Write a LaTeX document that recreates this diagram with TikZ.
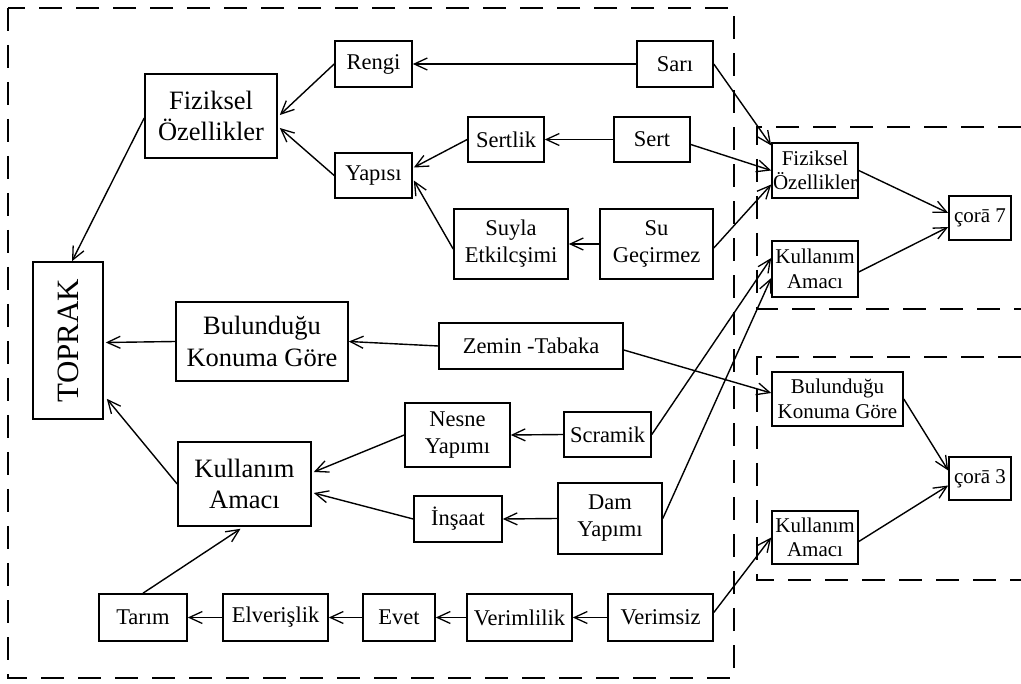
\documentclass[tikz,border=0pt]{standalone}
\usepackage{fontspec}
\setmainfont{Liberation Serif}
\usetikzlibrary{arrows.meta,calc}

\tikzset{
  box/.style={draw, line width=1.6pt, inner sep=0pt, align=center},
  big/.style={box, font=\fontsize{26.5}{31.5}\selectfont},
  mid/.style={box, font=\fontsize{22.5}{27}\selectfont},
  sml/.style={box, font=\fontsize{21}{24.5}\selectfont},
  sz/.style 2 args={minimum width=#1pt, minimum height=#2pt},
  link/.style={line width=1.4pt, -{Straight Barb[length=13pt,width=12pt,line width=1.3pt]}},
  frame/.style={line width=2pt, dash pattern=on 23pt off 14pt},
}

\begin{document}
\begin{tikzpicture}[x=1pt,y=-1pt]
\useasboundingbox (0,0) rectangle (1021,684);

% dashed group frames
\draw[frame] (8,8) rectangle (734,678);
\draw[frame] (1021,127) -- (757,127) -- (757,309) -- (1021,309);
\draw[frame] (1021,357) -- (757,357) -- (757,580) -- (1021,580);

% main tree
\node[box, sz={70}{157}] (toprak) at (68,340.5) {};
\node[font=\fontsize{31}{37}\selectfont, rotate=90] (toprakT) at (toprak.center) {TOPRAK};

\node[big, sz={132}{84}] (fizL) at (211,116) {Fiziksel\\Özellikler};
\node[mid, sz={77}{46}] (rengi) at (373.5,64) {Rengi};
\node[mid, sz={77}{45}] (yapisi) at (373.5,175.5) {Yapısı};
\node[mid, sz={76}{46}] (sari) at (675,64) {Sarı};
\node[mid, sz={76}{45}] (sertlik) at (506,139.5) {Sertlik};
\node[mid, sz={76}{45}] (sert) at (652,139.5) {Sert};
\node[mid, sz={114}{70}] (suyla) at (511,244) {Suyla\\Etkilcşimi};
\node[mid, sz={113}{70}] (su) at (656.5,244) {Su\\Geçirmez};

\node[big, sz={172}{79}] (bulL) at (262,341.5) {Bulunduğu\\Konuma Göre};
\node[mid, sz={184}{46}] (zemin) at (531,346) {Zemin -Tabaka};

\node[big, sz={133}{84}] (kulL) at (244.5,484) {Kullanım\\Amacı};
\node[mid, sz={105}{64}] (nesne) at (457.5,435) {Nesne\\Yapımı};
\node[mid, sz={87}{45}] (scramik) at (607.5,434.5) {Scramik};
\node[mid, sz={88}{46}] (insaat) at (458,519) {İnşaat};
\node[mid, sz={104}{71}] (dam) at (610,518.5) {Dam\\Yapımı};

\node[mid, sz={88}{47}] (tarim) at (143,617.5) {Tarım};
\node[mid, sz={105}{47}] (elver) at (275.5,617.5) {Elverişlik};
\node[mid, sz={72}{47}] (evet) at (399,617.5) {Evet};
\node[mid, sz={105}{47}] (veriml) at (519.5,617.5) {Verimlilik};
\node[mid, sz={105}{47}] (verimsiz) at (660.5,617.5) {Verimsiz};

% right-hand groups
\node[sml, sz={86}{55}] (fizR) at (815,170.5) {Fiziksel\\Özellikler};
\node[sml, sz={86}{56}] (kulRa) at (815,269) {Kullanım\\Amacı};
\node[sml, sz={62}{44}] (cora7) at (980,218) {çorā 7};
\node[sml, sz={131}{54}] (bulR) at (837.5,399) {Bulunduğu\\Konuma Göre};
\node[sml, sz={62}{43}] (cora3) at (980,478.5) {çorā 3};
\node[sml, sz={86}{53}] (kulRb) at (815,537.5) {Kullanım\\Amacı};

% connectors inside the main tree
\draw[link] (sari.west) -- (rengi.east);
\draw[link] (rengi.west) -- ($(fizL.east)+(2,-1)$);
\draw[link] (yapisi.west) -- ($(fizL.east)+(2,12)$);
\draw[link] (sert.west) -- (sertlik.east);
\draw[link] (sertlik.west) -- ($(yapisi.east)+(1,-8)$);
\draw[link] (su.west) -- (suyla.east);
\draw[link] ($(suyla.west)+(0,5)$) -- ($(yapisi.east)+(1,5)$);
\draw[link] ($(fizL.west)+(0,2)$) -- ($(toprak.north)+(4,0)$);
\draw[link] (zemin.west) -- (bulL.east);
\draw[link] (bulL.west) -- ($(toprak.east)+(2,2)$);
\draw[link] (kulL.west) -- ($(toprak.south east)+(3,-21)$);
\draw[link] (scramik.west) -- (nesne.east);
\draw[link] (nesne.west) -- ($(kulL.east)+(2,-12)$);
\draw[link] (dam.west) -- (insaat.east);
\draw[link] (insaat.west) -- ($(kulL.east)+(2,9)$);
\draw[link] (verimsiz.west) -- (veriml.east);
\draw[link] (veriml.west) -- (evet.east);
\draw[link] (evet.west) -- (elver.east);
\draw[link] (elver.west) -- (tarim.east);
\draw[link] (tarim.north) -- ($(kulL.south)+(-4,2)$);

% connectors into the right-hand groups
\draw[link] (sari.east) -- ($(fizR.west)+(0,-25)$);
\draw[link] ($(sert.east)+(0,5)$) -- (fizR.west);
\draw[link] ($(su.east)+(0,4)$) -- ($(fizR.west)+(0,14)$);
\draw[link] (scramik.east) -- ($(kulRa.west)+(0,-11)$);
\draw[link] (dam.east) -- ($(kulRa.west)+(0,9)$);
\draw[link] ($(zemin.east)+(0,4)$) -- ($(bulR.west)+(0,-6)$);
\draw[link] ($(verimsiz.east)+(0,-5)$) -- (kulRb.west);
\draw[link] (fizR.east) -- ($(cora7.west)+(0,-5)$);
\draw[link] ($(kulRa.east)+(0,3)$) -- ($(cora7.west)+(0,9)$);
\draw[link] (bulR.east) -- ($(cora3.west)+(0,-8)$);
\draw[link] ($(kulRb.east)+(0,4)$) -- ($(cora3.west)+(0,7)$);
\end{tikzpicture}
\end{document}
